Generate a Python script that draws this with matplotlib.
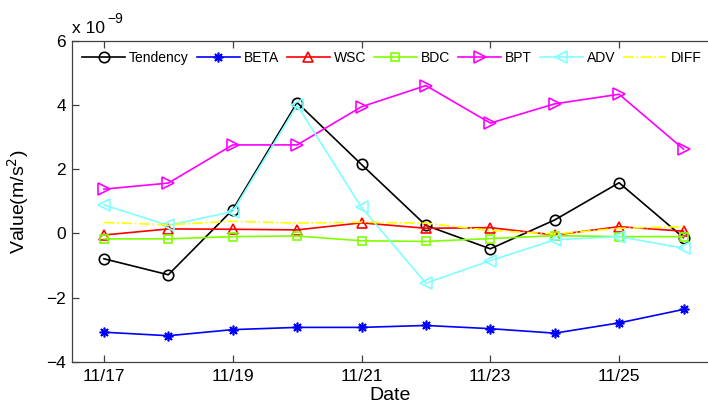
import matplotlib
matplotlib.use("Agg")
import matplotlib.pyplot as plt

plt.rcParams["font.family"] = ["Liberation Sans", "DejaVu Sans"]

# Daily budget terms, in units of 1e-9 m/s^2
days = [17, 18, 19, 20, 21, 22, 23, 24, 25, 26]
tendency = [-0.79, -1.29, 0.74, 4.08, 2.15, 0.25, -0.48, 0.42, 1.58, -0.13]
beta = [-3.08, -3.19, -3.00, -2.93, -2.93, -2.87, -2.97, -3.11, -2.79, -2.37]
wsc = [-0.05, 0.14, 0.13, 0.11, 0.33, 0.16, 0.18, -0.05, 0.21, 0.07]
bdc = [-0.17, -0.17, -0.10, -0.08, -0.23, -0.25, -0.16, -0.07, -0.10, -0.10]
bpt = [1.38, 1.57, 2.76, 2.76, 3.95, 4.61, 3.44, 4.04, 4.34, 2.63]
adv = [0.89, 0.25, 0.68, 4.00, 0.81, -1.55, -0.85, -0.20, -0.10, -0.46]
diff = [0.34, 0.27, 0.38, 0.32, 0.35, 0.32, 0.09, -0.02, 0.16, 0.21]

tick_days = [17, 19, 21, 23, 25]
tick_labels = ["11/17", "11/19", "11/21", "11/23", "11/25"]
y_ticks = [-4, -2, 0, 2, 4, 6]

W, H = 708, 405
fig = plt.figure(figsize=(W / 100, H / 100), dpi=100)
ax = fig.add_axes([71.7 / W, (H - 361.7) / H, 644 / W, 320.7 / H])

lw = 1.2
mew = 1.2
ax.plot(days, tendency, color="k", lw=lw, marker="o", ms=7.5, mfc="none", mew=mew, label="Tendency")
ax.plot(days, beta, color=(0, 0, 1), lw=lw, marker=(8, 2, 0), ms=7, mew=mew, label="BETA")
ax.plot(days, wsc, color=(1, 0, 0), lw=lw, marker="^", ms=7, mfc="none", mew=mew, label="WSC")
ax.plot(days, bdc, color=(0.5, 1, 0), lw=lw, marker="s", ms=5.5, mfc="none", mew=mew, label="BDC")
ax.plot(days, bpt, color=(1, 0, 1), lw=lw, marker=">", ms=8, mfc="none", mew=mew, label="BPT")
ax.plot(days, adv, color=(0.5, 1, 1), lw=lw, marker="<", ms=8, mfc="none", mew=mew, label="ADV")
ax.plot(days, diff, color=(1, 1, 0), lw=lw, ls="-.", label="DIFF")

ax.set_xlim(16.5, 26.5)
ax.set_ylim(-4, 6)
ax.set_xticks(tick_days)
ax.set_xticklabels(tick_labels)
ax.set_yticks(y_ticks)

for s in ax.spines.values():
    s.set_color("#404040")
    s.set_linewidth(0.9)
ax.tick_params(direction="in", length=5, width=0.9, color="#404040",
               top=True, right=True, labelsize=12.5)
ax.tick_params(axis="x", pad=5)
ax.tick_params(axis="y", pad=4)

leg = ax.legend(ncol=7, loc="center left", bbox_to_anchor=(0.016, 1 - 17 / 320.7),
                frameon=False, fontsize=10, handlelength=3.1, handletextpad=0.3,
                columnspacing=0.55, borderpad=0, borderaxespad=0, numpoints=1)

# Axis labels and exponent
fig.text(18 / W, 1 - 201.5 / H, r"Value(m/s$^{2}$)", rotation=90,
         ha="center", va="center", fontsize=14)
fig.text(390 / W, 1 - 400.5 / H, "Date", ha="center", va="baseline", fontsize=14)
fig.text(72 / W, 1 - 33.3 / H, "x 10", ha="left", va="baseline", fontsize=12.5)
fig.text(107 / W, 1 - 23.3 / H, "\u22129", ha="left", va="baseline", fontsize=10)

fig.savefig("out.png", dpi=100)
